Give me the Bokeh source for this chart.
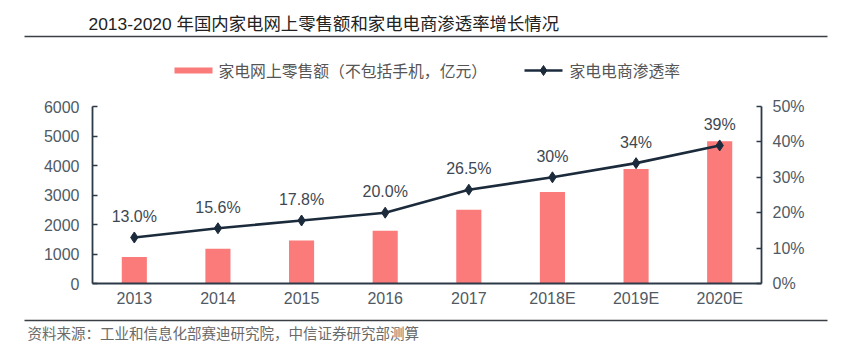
from bokeh.plotting import figure
from bokeh.models import (Range1d, LinearAxis, FixedTicker, PrintfTickFormatter,
                          ColumnDataSource, FactorRange)
from bokeh.layouts import column
from bokeh.core.properties import value
from bokeh.embed import file_html
from bokeh.resources import INLINE

# ---- data ----
years = ["2013", "2014", "2015", "2016", "2017", "2018E", "2019E", "2020E"]
sales = [900, 1180, 1460, 1790, 2500, 3100, 3880, 4820]           # 亿元
penetration = [13.0, 15.6, 17.8, 20.0, 26.5, 30.0, 34.0, 39.0]    # %
pen_labels = ["13.0%", "15.6%", "17.8%", "20.0%", "26.5%", "30%", "34%", "39%"]
left_ticks = [0, 1000, 2000, 3000, 4000, 5000, 6000]
right_ticks = [0, 10, 20, 30, 40, 50]

title_text = "2013-2020 年国内家电网上零售额和家电电商渗透率增长情况"
legend_bar = "家电网上零售额（不包括手机，亿元）"
legend_line = "家电电商渗透率"
source_text = "资料来源：工业和信息化部赛迪研究院，中信证券研究部测算"

FONT = "'Liberation Sans', 'Noto Sans CJK SC', sans-serif"
CJK = "'Noto Sans CJK SC', sans-serif"
BAR = "#fb7a7a"
LINE = "#1b2b3c"
AXIS = "#2c3a48"
TXT = "#505a64"
RULE = "#3a3f45"

W = 845


def deco(h, y0):
    """figure whose data coordinates equal page pixels (y downwards)"""
    f = figure(width=W, height=h, x_range=Range1d(0, W), y_range=Range1d(y0 + h, y0),
               x_axis_location=None, y_axis_location=None, min_border=0,
               output_backend="svg", toolbar_location=None, tools="")
    f.frame_align = False
    f.outline_line_color = None
    f.xgrid.visible = False
    f.ygrid.visible = False
    f.background_fill_color = "white"
    f.border_fill_color = "white"
    return f


# ---- header: title, rule, legend ----
top = deco(88, 0)
top.text(x=[88], y=[23], text=[title_text], text_font=value(FONT), text_font_size="17.4px",
         text_color="#222222", text_baseline="middle", text_align="left")
top.segment(x0=[24], y0=[36], x1=[827], y1=[36], line_color=RULE, line_width=1.6)
top.quad(left=[174], right=[212], top=[67], bottom=[73], fill_color=BAR, line_color=None)
top.text(x=[218], y=[70], text=[legend_bar], text_font=value(CJK), text_font_size="15.8px",
         text_color="#555555", text_baseline="middle", text_align="left")
top.segment(x0=[524], y0=[70], x1=[562], y1=[70], line_color=LINE, line_width=2.5)
top.scatter(x=[543], y=[70], marker="diamond", size=10, fill_color=LINE, line_color=LINE)
top.text(x=[569], y=[70], text=[legend_line], text_font=value(CJK), text_font_size="15.8px",
         text_color="#555555", text_baseline="middle", text_align="left")

# ---- main chart ----
src = ColumnDataSource(dict(x=years, sales=sales, pen=penetration, lab=pen_labels))

p = figure(x_range=FactorRange(*years), y_range=Range1d(0, 6000),
           frame_width=669, frame_height=177,
           min_border_left=92, min_border_right=W - 92 - 669, min_border_top=106 - 88,
           min_border_bottom=310 - 283,
           output_backend="svg", toolbar_location=None, tools="")
p.frame_align = False
p.extra_y_ranges = {"pct": Range1d(0, 50)}
p.outline_line_color = None
p.background_fill_color = "white"
p.border_fill_color = "white"
p.xgrid.visible = False
p.ygrid.visible = False
p.x_range.range_padding = 0

p.vbar(x="x", top="sales", width=0.3, source=src, color=BAR, line_color=None)
p.line(x="x", y="pen", source=src, y_range_name="pct", line_color=LINE, line_width=2.6)
p.scatter(x="x", y="pen", source=src, y_range_name="pct", marker="diamond", size=11,
          fill_color=LINE, line_color=LINE)
p.text(x="x", y="pen", text="lab", source=src, y_range_name="pct", y_offset=-21,
       text_align="center", text_baseline="middle", text_font=value(FONT),
       text_font_size="16px", text_color="#3e4852")


def style_axis(ax, standoff):
    ax.axis_line_color = AXIS
    ax.axis_line_width = 1.8
    ax.major_tick_line_color = AXIS
    ax.major_tick_line_width = 1.5
    ax.major_tick_in = 5
    ax.major_tick_out = 0
    ax.minor_tick_line_color = None
    ax.major_label_text_font = FONT
    ax.major_label_text_font_size = "16px"
    ax.major_label_text_color = TXT
    ax.major_label_standoff = standoff


yl = p.yaxis[0]
yl.ticker = FixedTicker(ticks=left_ticks)
style_axis(yl, 13)

yr = LinearAxis(y_range_name="pct", ticker=FixedTicker(ticks=right_ticks),
                formatter=PrintfTickFormatter(format="%d%%"))
style_axis(yr, 11)
p.add_layout(yr, "right")

xa = p.xaxis[0]
style_axis(xa, 6)
xa.major_tick_line_color = None

# ---- footer: rule and source ----
bot = deco(43, 310)
bot.segment(x0=[24], y0=[320], x1=[827], y1=[320], line_color=RULE, line_width=1.6)
bot.text(x=[27], y=[332], text=[source_text], text_font=value(CJK), text_font_size="14.5px",
         text_color="#6a6a6a", text_baseline="middle", text_align="left")

layout = column(top, p, bot, spacing=0)
open("out.html", "w").write(file_html(layout, INLINE))
